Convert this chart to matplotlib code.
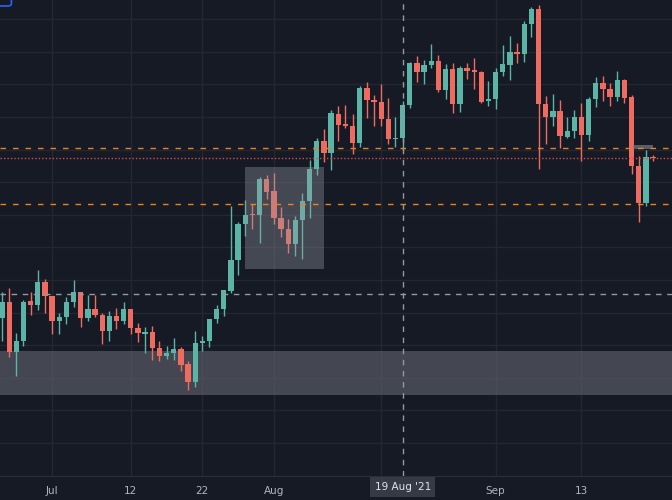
import matplotlib.pyplot as plt
import numpy as np
import pandas as pd
from matplotlib.patches import Rectangle, FancyBboxPatch

# daily candles, 24 Jun 2021 .. 23 Sep 2021 (price in chart units)
start_date = "2021-06-24"
opens = [182, 198, 148, 159, 199, 195, 218, 204, 179, 183,
         198, 208, 182, 191, 185, 169, 184, 179, 191, 172,
         166, 168, 152, 144, 147, 151, 136, 118, 157, 159,
         181, 191, 209, 240, 276, 286, 285, 321, 309, 282,
         271, 256, 280, 299, 331, 359, 347, 386, 376, 374,
         357, 412, 400, 398, 381, 361, 362, 395, 437, 428,
         435, 439, 410, 431, 396, 432, 430, 428, 399, 401,
         428, 435, 448, 446, 476, 491, 396, 383, 389, 363,
         369, 383, 365, 401, 417, 411, 403, 420, 403, 334,
         297, 343]
highs = [208, 212, 167, 200, 208, 230, 221, 204, 187, 203,
         220, 208, 205, 205, 187, 189, 192, 198, 191, 177,
         173, 174, 159, 154, 162, 153, 139, 169, 164, 181,
         195, 210, 294, 278, 300, 296, 323, 325, 327, 293,
         281, 284, 307, 340, 362, 371, 390, 394, 395, 386,
         414, 418, 405, 416, 402, 383, 399, 438, 444, 440,
         456, 445, 436, 437, 434, 437, 442, 429, 419, 432,
         455, 464, 457, 479, 493, 495, 404, 406, 400, 383,
         390, 397, 403, 423, 424, 417, 429, 421, 405, 344,
         350, 345]
lows = [159, 143, 124, 154, 185, 190, 187, 166, 166, 176,
        193, 173, 179, 183, 156, 159, 171, 176, 166, 158,
        147, 140, 139, 141, 140, 129, 110, 113, 149, 153,
        177, 184, 207, 225, 264, 271, 257, 301, 276, 263,
        247, 244, 241, 282, 325, 338, 330, 359, 372, 346,
        353, 382, 374, 374, 356, 353, 350, 392, 418, 416,
        432, 408, 401, 387, 388, 421, 411, 397, 394, 391,
        424, 420, 437, 438, 463, 331, 356, 374, 352, 362,
        362, 339, 359, 393, 399, 394, 399, 397, 326, 278,
        294, 339]
closes = [198, 148, 159, 198, 195, 218, 204, 179, 183, 198,
          208, 182, 191, 185, 169, 184, 179, 191, 172, 167,
          168, 152, 144, 147, 151, 135, 118, 157, 159, 181,
          191, 210, 240, 276, 285, 285, 321, 308, 282, 271,
          256, 280, 299, 331, 359, 347, 387, 375, 374, 357,
          412, 400, 398, 381, 361, 362, 395, 437, 428, 435,
          439, 410, 431, 396, 432, 429, 428, 398, 401, 428,
          436, 448, 446, 476, 491, 396, 383, 389, 364, 369,
          383, 365, 401, 417, 411, 403, 420, 402, 334, 297,
          343, 342]

tick_dates = ["2021-07-01", "2021-07-12", "2021-07-22", "2021-08-01",
              "2021-08-16", "2021-09-01", "2021-09-13"]
tick_labels = ["Jul", "12", "22", "Aug", "", "Sep", "13"]
cross_date = "2021-08-19"
cross_label = "19 Aug '21"

# horizontal drawings
orange_levels = [352, 296]
red_level = 342
cross_price = 206
zone = (105, 149)
box = ("2021-07-28", "2021-08-08", 231, 333)

bg = "#161a25"
up_col = "#5bb5a6"
dn_col = "#ef6b60"

o = np.array(opens, float)
h = np.array(highs, float)
l = np.array(lows, float)
c = np.array(closes, float)
x = np.arange(len(o))
t0 = pd.Timestamp(start_date)


def day(s):
    return (pd.Timestamp(s) - t0).days


fig = plt.figure(figsize=(6.72, 5.0), dpi=100, facecolor=bg)
ax = fig.add_axes([0, 24 / 500, 1, 476 / 500])
ax.set_facecolor(bg)
ax.set_axisbelow(True)

# gray support zone across the chart
ax.axhspan(zone[0], zone[1], color="#5d6069", alpha=0.66, lw=0, zorder=1)
# rectangle drawing
bx0, bx1 = day(box[0]), day(box[1])
ax.add_patch(Rectangle((bx0, box[2]), bx1 - bx0, box[3] - box[2],
                       facecolor="#9598a1", alpha=0.37, lw=0, zorder=4))

up = c >= o
cols = np.where(up, up_col, dn_col)
ax.vlines(x, l, h, colors=cols, lw=1, zorder=3)
body_low = np.minimum(o, c)
body_h = np.maximum(np.abs(c - o), 1.2)
ax.bar(x, body_h, bottom=body_low, width=0.74, color=cols, lw=0, zorder=3)

for lev in orange_levels:
    ax.axhline(lev, color="#e8821e", lw=1, dashes=(4, 5), zorder=5)
ax.axhline(red_level, color="#d9474f", lw=1, dashes=(1, 1.5), zorder=5)

# small marker rectangle near last candle
ax.add_patch(Rectangle((88.2, 351), 2.8, 4, facecolor="#787b86",
                       alpha=0.7, lw=0, zorder=4))

# crosshair
cx = day(cross_date)
ax.axvline(cx, color="#9598a1", lw=1, dashes=(4, 4), zorder=6)
ax.axhline(cross_price, color="#9598a1", lw=1, dashes=(4, 4), zorder=6)

ax.set_xlim(-0.28, 93.65)
ax.set_ylim(24, 500)
ax.set_yticks(57 + 32.6 * np.arange(14))
ax.set_xticks([day(d) for d in tick_dates])
ax.set_xticklabels(tick_labels)
ax.grid(True, color="#232734", lw=1)
ax.tick_params(axis="x", length=0, pad=7, labelsize=7.5, labelcolor="#b2b5be")
ax.tick_params(axis="y", length=0, labelleft=False)
for s in ["top", "left", "right"]:
    ax.spines[s].set_visible(False)
ax.spines["bottom"].set_color("#2a2e39")

# crosshair date label
ax.text(cx, 13, cross_label, ha="center", va="center", fontsize=7.5,
        color="#e0e3eb", clip_on=False, zorder=10,
        bbox=dict(boxstyle="square,pad=0.45", fc="#363a45", ec="none"))

# toolbar button stub in the top-left corner
fig.patches.append(FancyBboxPatch((-0.02, 0.988), 0.037, 0.03,
                                  boxstyle="round,pad=0,rounding_size=0.005",
                                  transform=fig.transFigure, fc=bg,
                                  ec="#2962ff", lw=1.2))

fig.savefig("out.png", dpi=100, facecolor=bg)
